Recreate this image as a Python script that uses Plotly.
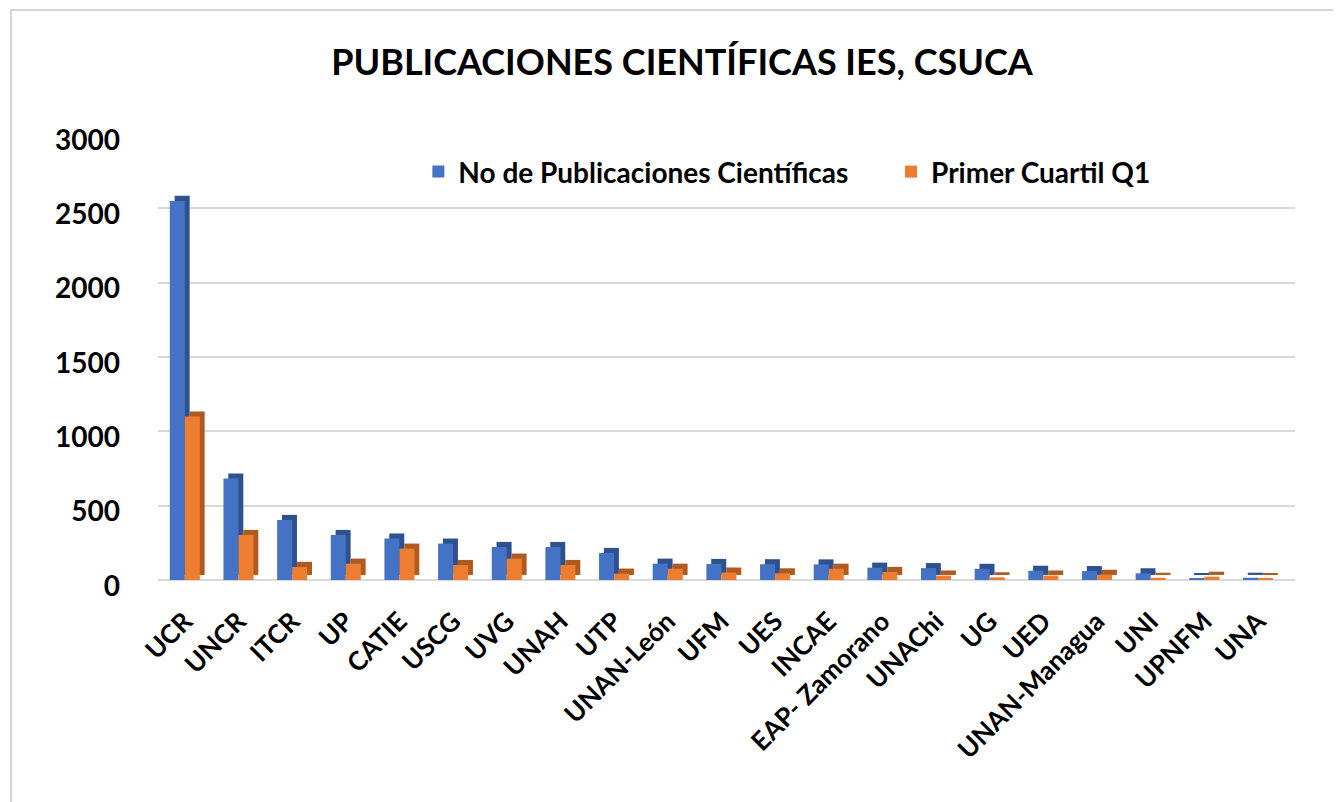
import plotly.graph_objects as go

categories = ["UCR", "UNCR", "ITCR", "UP", "CATIE", "USCG", "UVG", "UNAH", "UTP",
              "UNAN-León", "UFM", "UES", "INCAE", "EAP- Zamorano", "UNAChi", "UG",
              "UED", "UNAN-Managua", "UNI", "UPNFM", "UNA"]
publicaciones = [2550, 683, 404, 303, 279, 245, 222, 222, 182, 110, 108, 106, 105,
                 83, 80, 75, 62, 60, 45, 8, 15]
q1 = [1100, 303, 88, 110, 211, 101, 144, 101, 43, 76, 50, 45, 76, 54, 30, 18,
      30, 35, 15, 22, 12]
series_names = ["No de Publicaciones Científicas", "Primer Cuartil Q1"]

BLUE, BLUE_D = "#4472C4", "#2F528F"
ORANGE, ORANGE_D = "#ED7D31", "#AE5A21"
W = 0.28
DX = 0.09
DY = 34
FONT = "Lato, 'Open Sans', sans-serif"

fig = go.Figure()
fig.add_bar(x=categories, y=publicaciones, base=DY, offset=-W + DX, width=W,
            marker=dict(color=BLUE_D, line_width=0), showlegend=False, hoverinfo="skip")
fig.add_bar(x=categories, y=publicaciones, offset=-W, width=W,
            marker=dict(color=BLUE, line_width=0), name=f"<b>{series_names[0]}</b>",
            legend="legend")
fig.add_bar(x=categories, y=q1, base=DY, offset=DX, width=W,
            marker=dict(color=ORANGE_D, line_width=0), showlegend=False, hoverinfo="skip")
fig.add_bar(x=categories, y=q1, offset=0, width=W,
            marker=dict(color=ORANGE, line_width=0), name=f"<b>{series_names[1]}</b>",
            legend="legend2")

leg_common = dict(orientation="h", y=0.915, xanchor="left", yanchor="middle",
                  font=dict(family=FONT, size=28, color="black"),
                  bgcolor="rgba(0,0,0,0)")

fig.update_layout(
    width=1341, height=802,
    barmode="overlay",
    paper_bgcolor="white", plot_bgcolor="white",
    margin=dict(l=150, r=54, t=126, b=230, autoexpand=False),
    title=dict(text="<b>PUBLICACIONES CIENTÍFICAS IES, CSUCA</b>",
               x=0.5026, xanchor="center", y=0.9327, yanchor="middle",
               font=dict(family=FONT, size=36, color="black")),
    legend=dict(x=0.229, **leg_common),
    legend2=dict(x=0.6447, **leg_common),
    font=dict(family=FONT),
    shapes=[dict(type="rect", xref="paper", yref="paper", x0=-0.1293, x1=1.2,
                 y0=-0.7, y1=1.278, line=dict(color="#c8c8c8", width=1.5))],
)
fig.update_xaxes(tickangle=-45, tickfont=dict(family=FONT, size=26, color="black"),
                 showline=False, showgrid=False, ticks="", tickprefix="<b>",
                 ticksuffix="</b>", range=[-0.5, 20.5 + 0.19], automargin=False,
                 ticklabelstandoff=20)
fig.update_yaxes(range=[0, 3000], dtick=500, showgrid=True, gridcolor="#d9d9d9",
                 gridwidth=2, zeroline=True, zerolinecolor="#d9d9d9", zerolinewidth=2,
                 tickfont=dict(family=FONT, size=28, color="black"),
                 tickprefix="<b>", ticksuffix="</b>", ticklabelstandoff=37,
                 ticklabelshift=6, automargin=False)

fig.write_html("out.html")
